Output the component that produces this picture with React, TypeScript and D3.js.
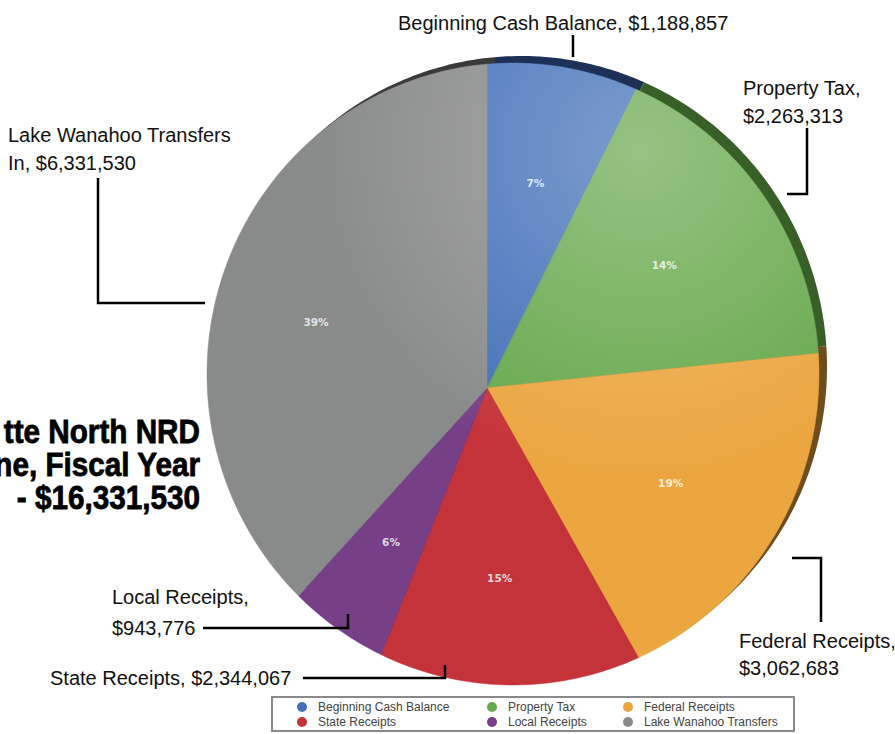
import React from 'react';
import * as d3 from 'd3';

// revenue sources, clockwise from 12 o'clock
const categories = [
  'Beginning Cash Balance',
  'Property Tax',
  'Federal Receipts',
  'State Receipts',
  'Local Receipts',
  'Lake Wanahoo Transfers',
];
const amounts = [1188857, 2263313, 3062683, 2344067, 943776, 6331530];
const percentLabels = ['7%', '14%', '19%', '15%', '6%', '39%'];
const calloutLines = [
  ['Beginning Cash Balance, $1,188,857'],
  ['Property Tax,', '$2,263,313'],
  ['Federal Receipts,', '$3,062,683'],
  ['State Receipts, $2,344,067'],
  ['Local Receipts,', '$943,776'],
  ['Lake Wanahoo Transfers', 'In, $6,331,530'],
];
const titleLines = ['tte North NRD', 'ne, Fiscal Year', '- $16,331,530'];

const colors = ['#4471b9', '#68a94d', '#eba640', '#c5333a', '#773f88', '#898a8a'];
const rimColors = ['#1c3058', '#375f27', '#6e4c1c', '#6a1c1f', '#3e2148', '#3a3a3a'];

const W = 895;
const H = 734;

// pie outline (slightly tilted disk) and the point where slices meet
const cx = 513;
const cy = 374;
const rx = 306;
const ry = 311;
const vx = 487;
const vy = 388;

// the tilt stretches the right-hand side a little (degrees, data -> drawn)
const tilt = d3.scaleLinear().domain([0, 27, 77, 360]).range([0, 27, 84, 360]);
const rad = (a: number) => (tilt((a * 180) / Math.PI) * Math.PI) / 180;

// where a ray from the vertex hits the outline
function edgePoint(a: number, ox = 0, oy = 0): [number, number] {
  const dx = Math.sin(a);
  const dy = -Math.cos(a);
  const px = vx - cx;
  const py = vy - cy;
  const A = (dx * dx) / (rx * rx) + (dy * dy) / (ry * ry);
  const B = 2 * ((px * dx) / (rx * rx) + (py * dy) / (ry * ry));
  const C = (px * px) / (rx * rx) + (py * py) / (ry * ry) - 1;
  const t = (-B + Math.sqrt(B * B - 4 * A * C)) / (2 * A);
  return [vx + dx * t + ox, vy + dy * t + oy];
}

function wedge(a0: number, a1: number, ox = 0, oy = 0) {
  const pts: [number, number][] = [[vx + ox, vy + oy]];
  const n = Math.max(4, Math.ceil(((a1 - a0) * 180) / Math.PI));
  for (let i = 0; i <= n; i++) pts.push(edgePoint(a0 + ((a1 - a0) * i) / n, ox, oy));
  return d3.line().curve(d3.curveLinearClosed)(pts) || '';
}

const calloutFont = '"Liberation Sans", Arial, sans-serif';

function App() {
  const data = categories.map((c, i) => ({ name: c, value: amounts[i], i }));
  const arcs = d3
    .pie<{ name: string; value: number; i: number }>()
    .value((d) => d.value)
    .sort(null)(data)
    .map((a) => ({ ...a, a0: rad(a.startAngle), a1: rad(a.endAngle) }));

  const leaders: string[] = [
    'M573,35V57',
    'M807,128V194H787',
    'M792,558H821V622',
    'M303,678H445V665',
    'M203,628H348V614',
    'M98,178V303H205',
  ];

  const calloutPos = [
    { x: 398, y: 30, lh: 28 },
    { x: 743, y: 95, lh: 28 },
    { x: 739, y: 648, lh: 27 },
    { x: 50, y: 685, lh: 28 },
    { x: 112, y: 604, lh: 31 },
    { x: 8, y: 142, lh: 28 },
  ];

  const legendX = [302, 492, 628];
  const legendY = [707, 722];

  return (
    <svg width={W} height={H} style={{ display: 'block', position: 'absolute', left: 0, top: 0 }}>
      <defs>
        <radialGradient id="shine" cx="640" cy="150" r="330" gradientUnits="userSpaceOnUse">
          <stop offset="0" stopColor="#fff" stopOpacity="0.3" />
          <stop offset="1" stopColor="#fff" stopOpacity="0" />
        </radialGradient>
      </defs>
      <rect width={W} height={H} fill="#fff" />

      {/* title, clipped at the left edge */}
      <g transform="translate(200,0) scale(0.9,1)" fontFamily='"Liberation Sans", Arial, sans-serif' fontWeight="bold" fontSize="33">
        {titleLines.map((t, i) => (
          <text key={t} x={0} y={443 + i * 33} textAnchor="end" fill="#000" stroke="#000" strokeWidth={0.8}>
            {t}
          </text>
        ))}
      </g>

      {/* dark rim of the tilted disk */}
      <g>
        {arcs.map((a) => (
          <path key={'r' + a.index} d={wedge(a.a0, a.a1, 8, -7)} fill={rimColors[a.index]} />
        ))}
      </g>

      <g>
        {arcs.map((a) => (
          <path key={a.index} d={wedge(a.a0, a.a1)} fill={colors[a.index]} stroke={colors[a.index]} strokeWidth={0.5} />
        ))}
        <ellipse cx={cx} cy={cy} rx={rx} ry={ry} fill="url(#shine)" />
      </g>

      <g fontFamily="Verdana, 'DejaVu Sans', sans-serif" fontWeight="bold" fontSize="10.5" fill="#fff" fillOpacity={0.8} textAnchor="middle">
        {arcs.map((a) => {
          const m = (a.a0 + a.a1) / 2;
          const [ex, ey] = edgePoint(m);
          const k = 0.64;
          return (
            <text key={'p' + a.index} x={vx + (ex - vx) * k} y={vy + (ey - vy) * k + 4}>
              {percentLabels[a.index]}
            </text>
          );
        })}
      </g>

      <g fill="none" stroke="#000" strokeWidth={2.5}>
        {leaders.map((d, i) => (
          <path key={i} d={d} />
        ))}
      </g>

      <g fontFamily={calloutFont} fontSize="20" fill="#111">
        {calloutLines.map((lines, i) =>
          lines.map((t, j) => (
            <text key={i + '-' + j} x={calloutPos[i].x} y={calloutPos[i].y + j * calloutPos[i].lh}>
              {t}
            </text>
          ))
        )}
      </g>

      {/* legend */}
      <g>
        <rect x={272} y={697} width={522} height={34} fill="#fff" stroke="#8a8a8a" strokeWidth={2} />
        {categories.map((c, i) => {
          const x = legendX[i % 3];
          const y = legendY[Math.floor(i / 3)];
          return (
            <g key={c}>
              <circle cx={x} cy={y} r={5} fill={colors[i]} />
              <text x={x + 16} y={y + 4} fontFamily='"Liberation Sans", Arial, sans-serif' fontSize="12" fill="#444">
                {c}
              </text>
            </g>
          );
        })}
      </g>
    </svg>
  );
}

export default App;
